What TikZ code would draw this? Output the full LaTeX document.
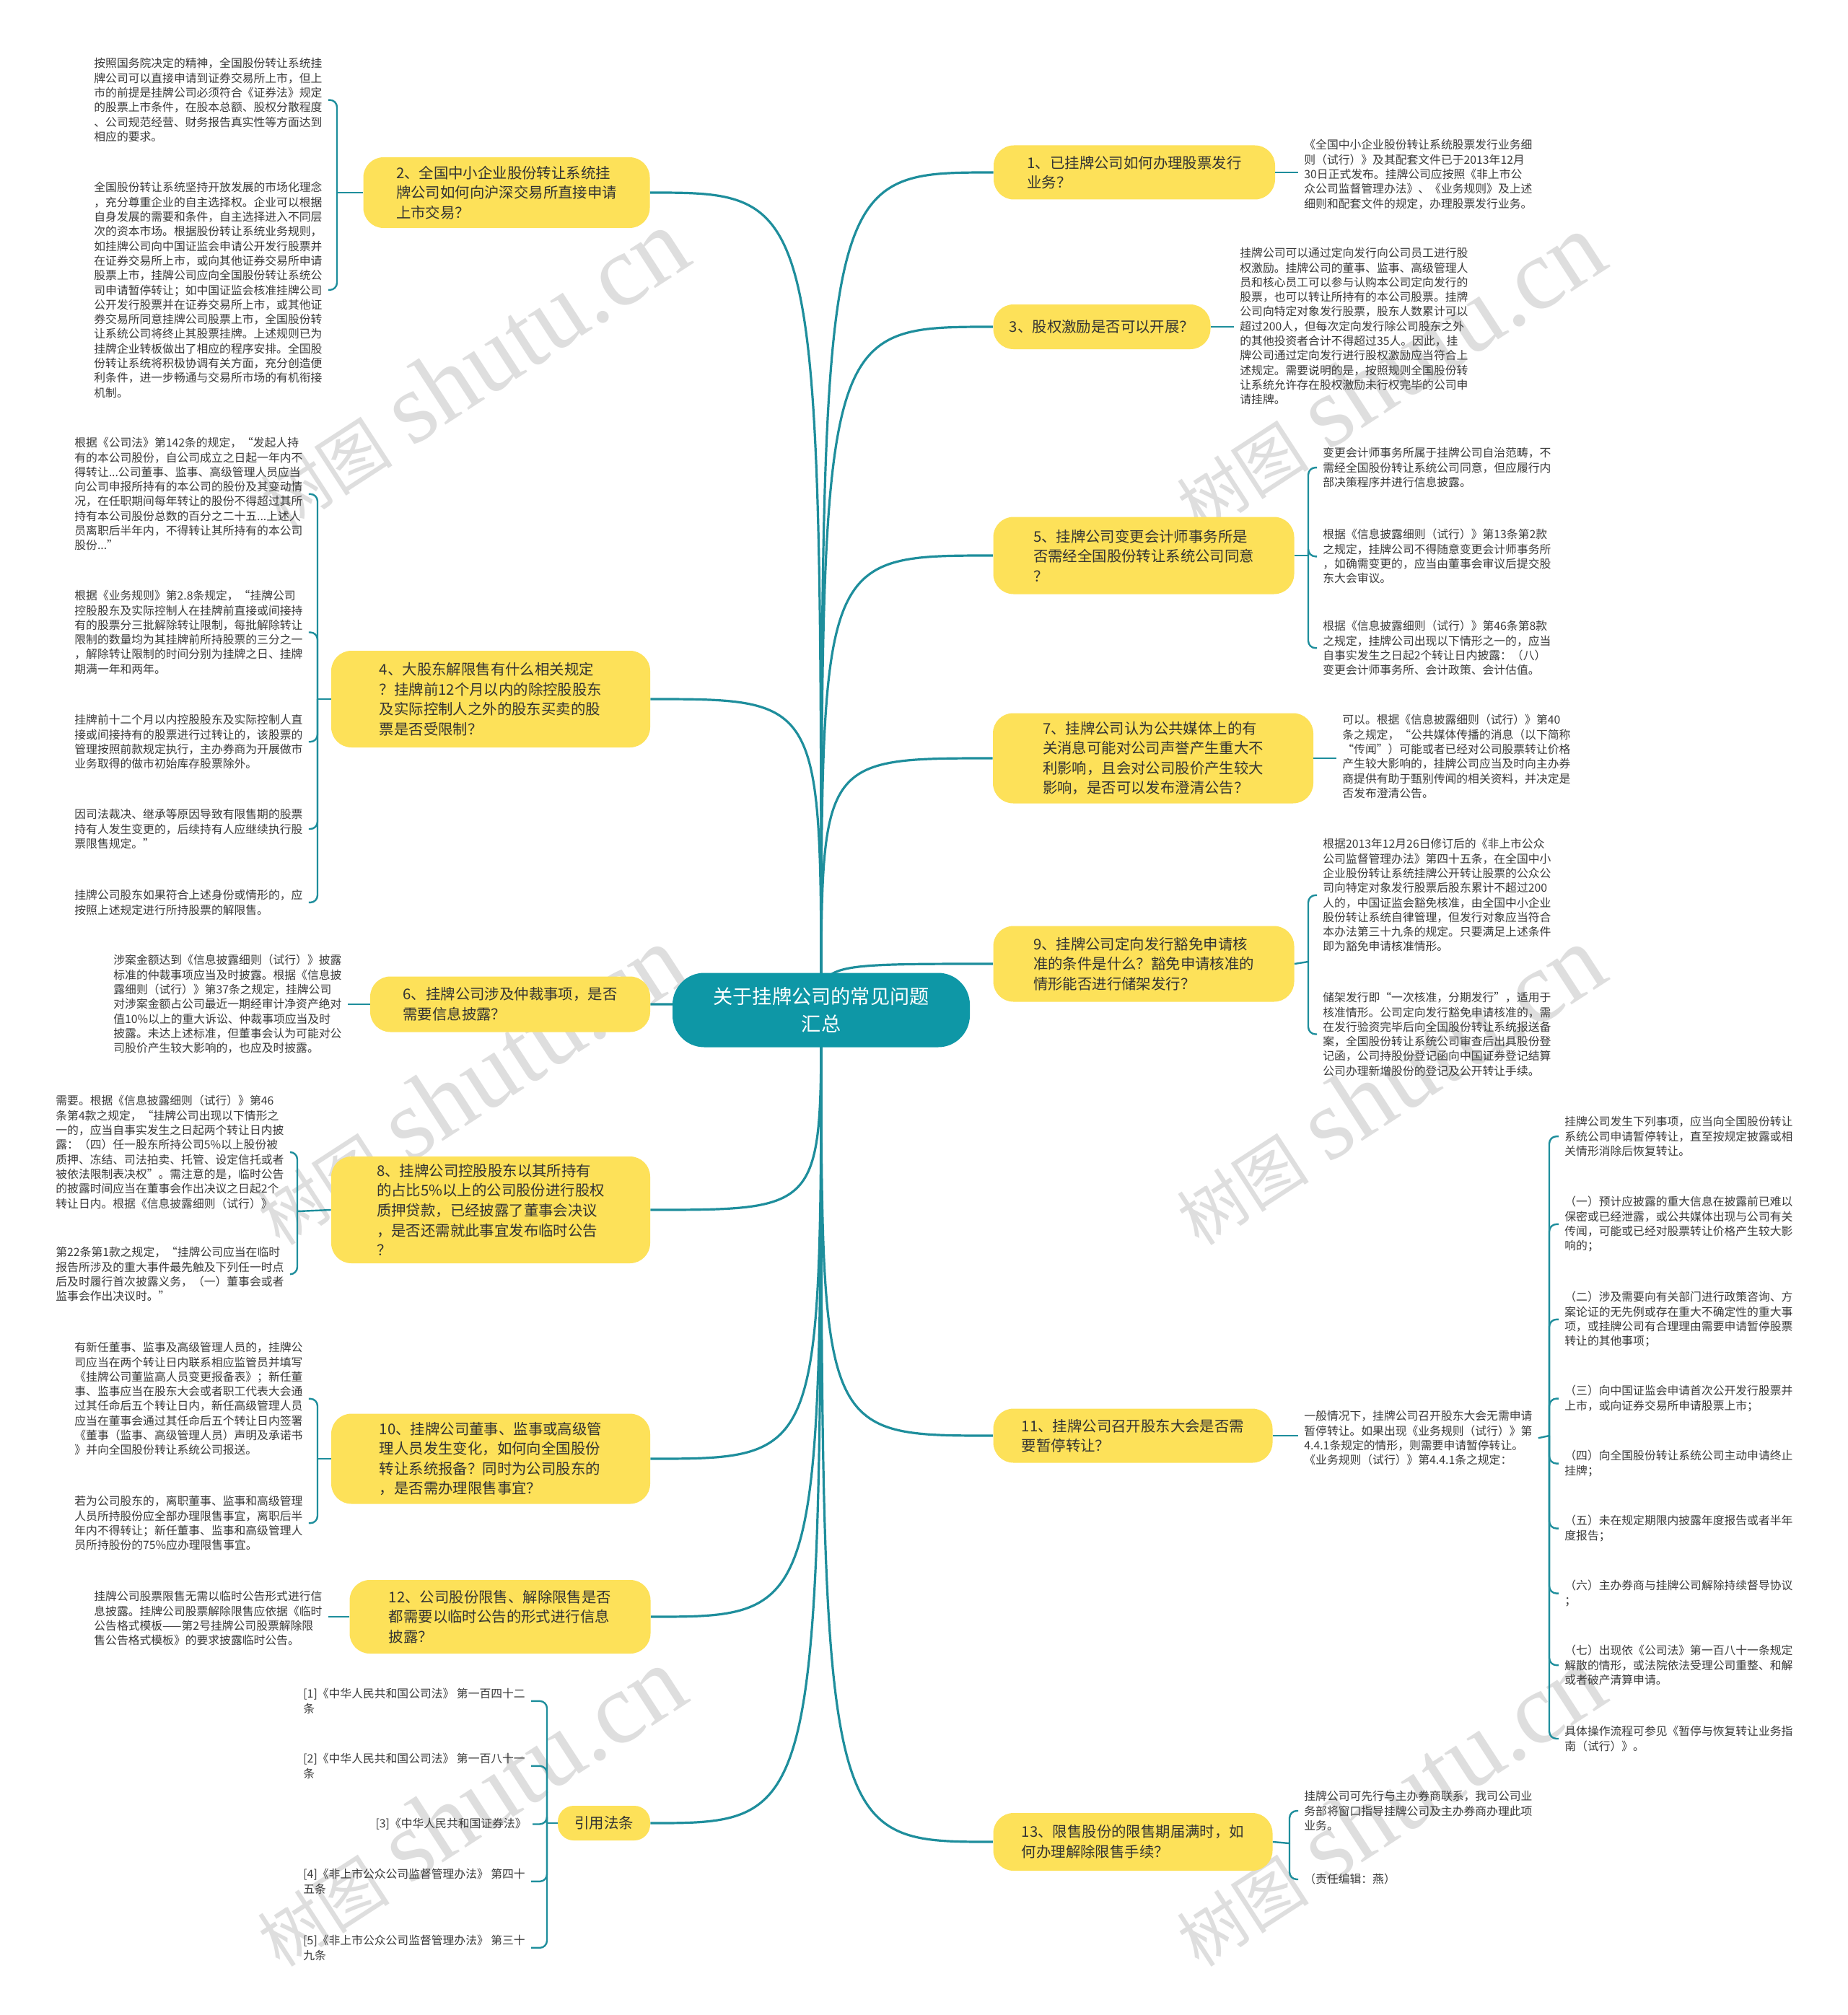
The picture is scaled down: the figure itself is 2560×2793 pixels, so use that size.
\documentclass[tikz,border=0pt]{standalone}
\usepackage{fontspec}
\setmainfont{Noto Sans CJK SC}
\newfontfamily\wmlatin{Liberation Serif}
\usepackage{tikz}
\usetikzlibrary{calc, backgrounds}
\definecolor{mapteal}{HTML}{1E8E9C}
\definecolor{rootteal}{HTML}{0E97A6}
\definecolor{topicyellow}{HTML}{FDE159}
\definecolor{textdark}{HTML}{333333}
\definecolor{notegray}{HTML}{3A3A3A}
\tikzset{
    branch line/.style={draw=mapteal, line width=1.6pt},
    brace line/.style={draw=mapteal, line width=1.2pt, rounded corners=5pt},
    root node/.style={fill=rootteal, text=white, rounded corners=22pt,
      align=center, minimum width=206pt, minimum height=51.5pt,
      font=\fontsize{13.6pt}{18.7pt}\selectfont},
    topic node/.style={fill=topicyellow, text=textdark, rounded corners=14pt,
      align=left, inner xsep=8pt, inner ysep=5pt,
      font=\fontsize{10.2pt}{13.8pt}\selectfont},
    note node/.style={anchor=north west, align=left, text=notegray,
      inner xsep=4pt, inner ysep=0pt,
      font=\fontsize{7.9pt}{10.15pt}\selectfont},
    watermark/.style={text=black!13, rotate=33, inner sep=0pt}
}
\begin{document}
\begin{tikzpicture}[x=0.5pt, y=-0.5pt]
  \begin{pgfonlayer}{background}
    \fill[white] (0,0) rectangle (2560,2793);
    \foreach \wx/\wy in {654/512, 1924/517, 650/1505, 1924/1505, 650/2505, 1924/2505}
      \node[watermark] at (\wx,\wy) {{\fontsize{46pt}{50pt}\selectfont 树图}\hspace{14pt}%
        {\wmlatin\fontsize{70pt}{70pt}\selectfont shutu.cn}};
  \end{pgfonlayer}
  \useasboundingbox (0,0) rectangle (2560,2793);

  \coordinate (c) at (1138,1400);
  \node[root node] (root) at (c) {关于挂牌公司的常见问题\\汇总};

  % right topics
  \node[topic node, minimum width=195pt, minimum height=37.5pt] (n1) at (1572,239)
  {1、已挂牌公司如何办理股票发行\\业务？};
  \node[topic node, minimum width=150.5pt, minimum height=31pt] (n3) at (1527,453)
  {3、股权激励是否可以开展？};
  \node[topic node, minimum width=208.5pt, minimum height=53.5pt] (n5) at (1585,770)
  {5、挂牌公司变更会计师事务所是\\否需经全国股份转让系统公司同意\\？};
  \node[topic node, minimum width=222pt, minimum height=62.5pt] (n7) at (1598,1051)
  {7、挂牌公司认为公共媒体上的有\\关消息可能对公司声誉产生重大不\\利影响，且会对公司股价产生较大\\影响，是否可以发布澄清公告？};
  \node[topic node, minimum width=208.5pt, minimum height=52.5pt] (n9) at (1585,1336)
  {9、挂牌公司定向发行豁免申请核\\准的条件是什么？豁免申请核准的\\情形能否进行储架发行？};
  \node[topic node, minimum width=193.5pt, minimum height=37.5pt] (n11) at (1570,1990)
  {11、挂牌公司召开股东大会是否需\\要暂停转让？};
  \node[topic node, minimum width=193.5pt, minimum height=40pt] (n13) at (1570,2553)
  {13、限售股份的限售期届满时，如\\何办理解除限售手续？};

  % left topics
  \node[topic node, minimum width=198.5pt, minimum height=49pt] (n2) at (702,267)
  {2、全国中小企业股份转让系统挂\\牌公司如何向沪深交易所直接申请\\上市交易？};
  \node[topic node, minimum width=221pt, minimum height=67pt] (n4) at (680,969)
  {4、大股东解限售有什么相关规定\\？挂牌前12个月以内的除控股股东\\及实际控制人之外的股东买卖的股\\票是否受限制？};
  \node[topic node, minimum width=194pt, minimum height=38.5pt] (n6) at (707,1392)
  {6、挂牌公司涉及仲裁事项，是否\\需要信息披露？};
  \node[topic node, minimum width=221pt, minimum height=74pt] (n8) at (680,1677)
  {8、挂牌公司控股股东以其所持有\\的占比5\%以上的公司股份进行股权\\质押贷款，已经披露了董事会决议\\，是否还需就此事宜发布临时公告\\？};
  \node[topic node, minimum width=221pt, minimum height=62.5pt] (n10) at (680,2022)
  {10、挂牌公司董事、监事或高级管\\理人员发生变化，如何向全国股份\\转让系统报备？同时为公司股东的\\，是否需办理限售事宜？};
  \node[topic node, minimum width=208.5pt, minimum height=51pt] (n12) at (693,2241)
  {12、公司股份限售、解除限售是否\\都需要以临时公告的形式进行信息\\披露？};
  \node[topic node, rounded corners=11pt, minimum width=64pt, minimum height=24pt] (law) at (837,2527)
  {引用法条};

  % right notes
  \node[note node] (t1) at (1799,193) {%
    《全国中小企业股份转让系统股票发行业务细\\%
    则（试行）》及其配套文件已于2013年12月\\%
    30日正式发布。挂牌公司应按照《非上市公\\%
    众公司监督管理办法》、《业务规则》及上述\\%
    细则和配套文件的规定，办理股票发行业务。};
  \node[note node] (t3) at (1710,343) {%
    挂牌公司可以通过定向发行向公司员工进行股\\%
    权激励。挂牌公司的董事、监事、高级管理人\\%
    员和核心员工可以参与认购本公司定向发行的\\%
    股票，也可以转让所持有的本公司股票。挂牌\\%
    公司向特定对象发行股票，股东人数累计可以\\%
    超过200人，但每次定向发行除公司股东之外\\%
    的其他投资者合计不得超过35人。因此，挂\\%
    牌公司通过定向发行进行股权激励应当符合上\\%
    述规定。需要说明的是，按照规则全国股份转\\%
    让系统允许存在股权激励未行权完毕的公司申\\%
    请挂牌。};
  \node[note node] (t5a) at (1825,620) {%
    变更会计师事务所属于挂牌公司自治范畴，不\\%
    需经全国股份转让系统公司同意，但应履行内\\%
    部决策程序并进行信息披露。};
  \node[note node] (t5b) at (1825,733) {%
    根据《信息披露细则（试行）》第13条第2款\\%
    之规定，挂牌公司不得随意变更会计师事务所\\%
    ，如确需变更的，应当由董事会审议后提交股\\%
    东大会审议。};
  \node[note node] (t5c) at (1825,860) {%
    根据《信息披露细则（试行）》第46条第8款\\%
    之规定，挂牌公司出现以下情形之一的，应当\\%
    自事实发生之日起2个转让日内披露：（八）\\%
    变更会计师事务所、会计政策、会计估值。};
  \node[note node] (t7) at (1852,990) {%
    可以。根据《信息披露细则（试行）》第40\\%
    条之规定，“公共媒体传播的消息（以下简称\\%
    “传闻”）可能或者已经对公司股票转让价格\\%
    产生较大影响的，挂牌公司应当及时向主办券\\%
    商提供有助于甄别传闻的相关资料，并决定是\\%
    否发布澄清公告。};
  \node[note node] (t9a) at (1825,1162) {%
    根据2013年12月26日修订后的《非上市公众\\%
    公司监督管理办法》第四十五条，在全国中小\\%
    企业股份转让系统挂牌公开转让股票的公众公\\%
    司向特定对象发行股票后股东累计不超过200\\%
    人的，中国证监会豁免核准，由全国中小企业\\%
    股份转让系统自律管理，但发行对象应当符合\\%
    本办法第三十九条的规定。只要满足上述条件\\%
    即为豁免申请核准情形。};
  \node[note node] (t9b) at (1825,1375) {%
    储架发行即“一次核准，分期发行”，适用于\\%
    核准情形。公司定向发行豁免申请核准的，需\\%
    在发行验资完毕后向全国股份转让系统报送备\\%
    案，全国股份转让系统公司审查后出具股份登\\%
    记函，公司持股份登记函向中国证券登记结算\\%
    公司办理新增股份的登记及公开转让手续。};
  \node[note node] (t11) at (1799,1955) {%
    一般情况下，挂牌公司召开股东大会无需申请\\%
    暂停转让。如果出现《业务规则（试行）》第\\%
    4.4.1条规定的情形，则需要申请暂停转让。\\%
    《业务规则（试行）》第4.4.1条之规定：};
  \node[note node] (t11a) at (2160,1547) {%
    挂牌公司发生下列事项，应当向全国股份转让\\%
    系统公司申请暂停转让，直至按规定披露或相\\%
    关情形消除后恢复转让。};
  \node[note node] (t11b) at (2160,1658) {%
    （一）预计应披露的重大信息在披露前已难以\\%
    保密或已经泄露，或公共媒体出现与公司有关\\%
    传闻，可能或已经对股票转让价格产生较大影\\%
    响的；};
  \node[note node] (t11c) at (2160,1790) {%
    （二）涉及需要向有关部门进行政策咨询、方\\%
    案论证的无先例或存在重大不确定性的重大事\\%
    项，或挂牌公司有合理理由需要申请暂停股票\\%
    转让的其他事项；};
  \node[note node] (t11d) at (2160,1920) {%
    （三）向中国证监会申请首次公开发行股票并\\%
    上市，或向证券交易所申请股票上市；};
  \node[note node] (t11e) at (2160,2010) {%
    （四）向全国股份转让系统公司主动申请终止\\%
    挂牌；};
  \node[note node] (t11f) at (2160,2100) {%
    （五）未在规定期限内披露年度报告或者半年\\%
    度报告；};
  \node[note node] (t11g) at (2160,2190) {%
    （六）主办券商与挂牌公司解除持续督导协议\\%
    ；};
  \node[note node] (t11h) at (2160,2280) {%
    （七）出现依《公司法》第一百八十一条规定\\%
    解散的情形，或法院依法受理公司重整、和解\\%
    或者破产清算申请。};
  \node[note node] (t11i) at (2160,2392) {%
    具体操作流程可参见《暂停与恢复转让业务指\\%
    南（试行）》。};
  \node[note node] (t13a) at (1799,2482) {%
    挂牌公司可先行与主办券商联系，我司公司业\\%
    务部将窗口指导挂牌公司及主办券商办理此项\\%
    业务。};
  \node[note node] (t13b) at (1799,2597) {（责任编辑：燕）};

  % left notes
  \node[note node] (t2a) at (122,80) {%
    按照国务院决定的精神，全国股份转让系统挂\\%
    牌公司可以直接申请到证券交易所上市，但上\\%
    市的前提是挂牌公司必须符合《证券法》规定\\%
    的股票上市条件，在股本总额、股权分散程度\\%
    、公司规范经营、财务报告真实性等方面达到\\%
    相应的要求。};
  \node[note node] (t2b) at (122,252) {%
    全国股份转让系统坚持开放发展的市场化理念\\%
    ，充分尊重企业的自主选择权。企业可以根据\\%
    自身发展的需要和条件，自主选择进入不同层\\%
    次的资本市场。根据股份转让系统业务规则，\\%
    如挂牌公司向中国证监会申请公开发行股票并\\%
    在证券交易所上市，或向其他证券交易所申请\\%
    股票上市，挂牌公司应向全国股份转让系统公\\%
    司申请暂停转让；如中国证监会核准挂牌公司\\%
    公开发行股票并在证券交易所上市，或其他证\\%
    券交易所同意挂牌公司股票上市，全国股份转\\%
    让系统公司将终止其股票挂牌。上述规则已为\\%
    挂牌企业转板做出了相应的程序安排。全国股\\%
    份转让系统将积极协调有关方面，充分创造便\\%
    利条件，进一步畅通与交易所市场的有机衔接\\%
    机制。};
  \node[note node] (t4a) at (95,606) {%
    根据《公司法》第142条的规定，“发起人持\\%
    有的本公司股份，自公司成立之日起一年内不\\%
    得转让...公司董事、监事、高级管理人员应当\\%
    向公司申报所持有的本公司的股份及其变动情\\%
    况，在任职期间每年转让的股份不得超过其所\\%
    持有本公司股份总数的百分之二十五...上述人\\%
    员离职后半年内，不得转让其所持有的本公司\\%
    股份...”};
  \node[note node] (t4b) at (95,818) {%
    根据《业务规则》第2.8条规定，“挂牌公司\\%
    控股股东及实际控制人在挂牌前直接或间接持\\%
    有的股票分三批解除转让限制，每批解除转让\\%
    限制的数量均为其挂牌前所持股票的三分之一\\%
    ，解除转让限制的时间分别为挂牌之日、挂牌\\%
    期满一年和两年。};
  \node[note node] (t4c) at (95,990) {%
    挂牌前十二个月以内控股股东及实际控制人直\\%
    接或间接持有的股票进行过转让的，该股票的\\%
    管理按照前款规定执行，主办券商为开展做市\\%
    业务取得的做市初始库存股票除外。};
  \node[note node] (t4d) at (95,1121) {%
    因司法裁决、继承等原因导致有限售期的股票\\%
    持有人发生变更的，后续持有人应继续执行股\\%
    票限售规定。”};
  \node[note node] (t4e) at (95,1233) {%
    挂牌公司股东如果符合上述身份或情形的，应\\%
    按照上述规定进行所持股票的解限售。};
  \node[note node] (t6) at (149,1323) {%
    涉案金额达到《信息披露细则（试行）》披露\\%
    标准的仲裁事项应当及时披露。根据《信息披\\%
    露细则（试行）》第37条之规定，挂牌公司\\%
    对涉案金额占公司最近一期经审计净资产绝对\\%
    值10\%以上的重大诉讼、仲裁事项应当及时\\%
    披露。未达上述标准，但董事会认为可能对公\\%
    司股价产生较大影响的，也应及时披露。};
  \node[note node] (t8a) at (69,1518) {%
    需要。根据《信息披露细则（试行）》第46\\%
    条第4款之规定，“挂牌公司出现以下情形之\\%
    一的，应当自事实发生之日起两个转让日内披\\%
    露：（四）任一股东所持公司5\%以上股份被\\%
    质押、冻结、司法拍卖、托管、设定信托或者\\%
    被依法限制表决权”。需注意的是，临时公告\\%
    的披露时间应当在董事会作出决议之日起2个\\%
    转让日内。根据《信息披露细则（试行）》};
  \node[note node] (t8b) at (69,1728) {%
    第22条第1款之规定，“挂牌公司应当在临时\\%
    报告所涉及的重大事件最先触及下列任一时点\\%
    后及时履行首次披露义务，（一）董事会或者\\%
    监事会作出决议时。”};
  \node[note node] (t10a) at (95,1860) {%
    有新任董事、监事及高级管理人员的，挂牌公\\%
    司应当在两个转让日内联系相应监管员并填写\\%
    《挂牌公司董监高人员变更报备表》；新任董\\%
    事、监事应当在股东大会或者职工代表大会通\\%
    过其任命后五个转让日内，新任高级管理人员\\%
    应当在董事会通过其任命后五个转让日内签署\\%
    《董事（监事、高级管理人员）声明及承诺书\\%
    》并向全国股份转让系统公司报送。};
  \node[note node] (t10b) at (95,2073) {%
    若为公司股东的，离职董事、监事和高级管理\\%
    人员所持股份应全部办理限售事宜，离职后半\\%
    年内不得转让；新任董事、监事和高级管理人\\%
    员所持股份的75\%应办理限售事宜。};
  \node[note node] (t12) at (122,2205) {%
    挂牌公司股票限售无需以临时公告形式进行信\\%
    息披露。挂牌公司股票解除限售应依据《临时\\%
    公告格式模板——第2号挂牌公司股票解除限\\%
    售公告格式模板》的要求披露临时公告。};

  % law notes
  \node[note node] (l1) at (412,2340) {[1]《中华人民共和国公司法》 第一百四十二\\条};
  \node[note node] (l2) at (412,2430) {[2]《中华人民共和国公司法》 第一百八十一\\条};
  \node[note node, anchor=north east] (l3) at (738,2520) {[3]《中华人民共和国证券法》};
  \node[note node] (l4) at (412,2590) {[4]《非上市公众公司监督管理办法》 第四十\\五条};
  \node[note node] (l5) at (412,2682) {[5]《非上市公众公司监督管理办法》 第三十\\九条};

  % junctions
  \coordinate (j2) at (467,267);
  \coordinate (j4) at (440,969);
  \coordinate (j8) at (412,1679);
  \coordinate (j10) at (440,2022);
  \coordinate (jlaw) at (758,2527);
  \coordinate (j5) at (1813,770);
  \coordinate (j9) at (1813,1333);
  \coordinate (j11) at (2147,1990);
  \coordinate (j13) at (1787,2555);

  % links
  \begin{pgfonlayer}{background}
    \draw[branch line] (c) .. controls (c |- n1.west) and (c |- n1.west) .. (n1.west);
    \draw[branch line] (c) .. controls (c |- n3.west) and (c |- n3.west) .. (n3.west);
    \draw[branch line] (c) .. controls (c |- n5.west) and (c |- n5.west) .. (n5.west);
    \draw[branch line] (c) .. controls (c |- n7.west) and (c |- n7.west) .. (n7.west);
    \draw[branch line] (c) .. controls (c |- n9.west) and (c |- n9.west) .. (n9.west);
    \draw[branch line] (c) .. controls (c |- n11.west) and (c |- n11.west) .. (n11.west);
    \draw[branch line] (c) .. controls (c |- n13.west) and (c |- n13.west) .. (n13.west);
    \draw[branch line] (c) .. controls (c |- n2.east) and (c |- n2.east) .. (n2.east);
    \draw[branch line] (c) .. controls (c |- n4.east) and (c |- n4.east) .. (n4.east);
    \draw[branch line] (c) .. controls (c |- n6.east) and (c |- n6.east) .. (n6.east);
    \draw[branch line] (c) .. controls (c |- n8.east) and (c |- n8.east) .. (n8.east);
    \draw[branch line] (c) .. controls (c |- n10.east) and (c |- n10.east) .. (n10.east);
    \draw[branch line] (c) .. controls (c |- n12.east) and (c |- n12.east) .. (n12.east);
    \draw[branch line] (c) .. controls (c |- law.east) and (c |- law.east) .. (law.east);
  \end{pgfonlayer}

  % single notes
  \draw[brace line] (n1.east) -- (t1.west |- n1.east);
  \draw[brace line] (n3.east) -- (t3.west |- n3.east);
  \draw[brace line] (n7.east) -- (t7.west |- n7.east);
  \draw[brace line] (n11.east) -- (t11.west |- n11.east);
  \draw[brace line] (n6.west) -- (t6.east |- n6.west);
  \draw[brace line] (n12.west) -- (t12.east |- n12.west);

  % braces
  \draw[brace line] (n2.west) -- (j2);
  \foreach \k in {t2a, t2b} \draw[brace line] (j2) |- (\k.east);
  \draw[brace line] (n4.west) -- (j4);
  \foreach \k in {t4a, t4b, t4c, t4d, t4e} \draw[brace line] (j4) |- (\k.east);
  \draw[brace line] (n8.west) -- (j8);
  \foreach \k in {t8a, t8b} \draw[brace line] (j8) |- (\k.east);
  \draw[brace line] (n10.west) -- (j10);
  \foreach \k in {t10a, t10b} \draw[brace line] (j10) |- (\k.east);
  \draw[brace line] (law.west) -- (jlaw);
  \foreach \k in {l1, l2, l3, l4, l5} \draw[brace line] (jlaw) |- (\k.east);
  \draw[brace line] (n5.east) -- (j5);
  \foreach \k in {t5a, t5b, t5c} \draw[brace line] (j5) |- (\k.west);
  \draw[brace line] (n9.east) -- (j9);
  \foreach \k in {t9a, t9b} \draw[brace line] (j9) |- (\k.west);
  \draw[brace line] (t11.east) -- (j11);
  \foreach \k in {t11a, t11b, t11c, t11d, t11e, t11f, t11g, t11h, t11i}
    \draw[brace line] (j11) |- (\k.west);
  \draw[brace line] (n13.east) -- (j13);
  \foreach \k in {t13a, t13b} \draw[brace line] (j13) |- (\k.west);
\end{tikzpicture}
\end{document}
